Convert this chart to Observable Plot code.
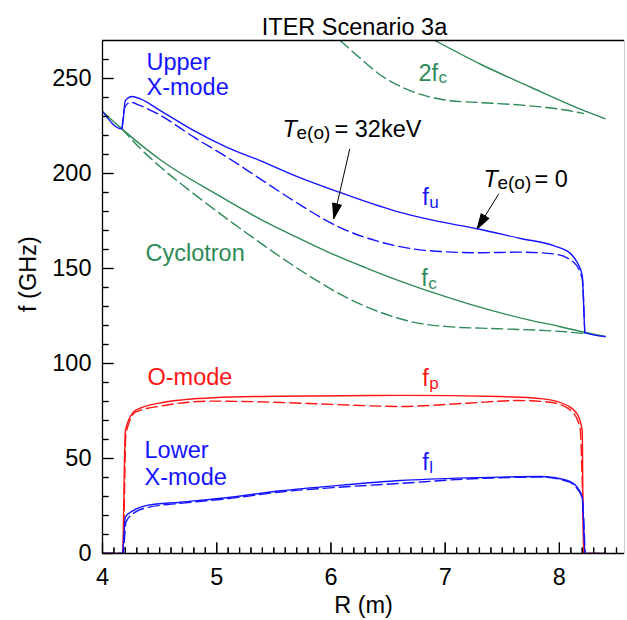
<!DOCTYPE html>
<html><head><meta charset="utf-8">
<script src="https://cdn.jsdelivr.net/npm/d3@7"></script>
<script src="https://cdn.jsdelivr.net/npm/@observablehq/plot@0.6"></script>
<style>body{margin:0;background:#fff}</style>
</head><body><div id="chart"></div>
<script>
// ---- data: [R (m), f (GHz)] ----
const fcCold = [[4.0,232.7],[4.17,223.5],[4.5,207.5],[5.0,189],[5.38,176],[5.7,166.5],[6.0,158],[6.3,150.5],[6.6,143.5],[6.91,137],[7.31,129.5],[7.75,122.7],[8.0,119.5],[8.23,116.3],[8.4,114.2]];
const fcHot = [[4.17,223.5],[4.32,213.8],[4.51,203.3],[4.8,189.3],[5.15,173.5],[5.5,158.5],[5.8,146.5],[6.08,136.5],[6.43,127],[6.72,121.8],[7.02,119.4],[7.31,118.6],[7.6,118],[7.89,117.3],[8.05,116.7],[8.21,115.8]];
const harm2Cold = [[6.91,270],[7.31,257.5],[7.75,245.4],[8.18,234],[8.4,228.8]];
const harm2Hot = [[6.08,270],[6.25,261],[6.43,252],[6.72,243],[7.02,238.5],[7.31,237.3],[7.6,236.3],[7.89,234.7],[8.05,233.4],[8.21,231.6]];
const fuCold = [[4.0,232.7],[4.17,223.5],[4.2,238.4],[4.26,240.5],[4.33,239.3],[4.51,233],[4.8,222.6],[5.09,213.8],[5.38,206.8],[5.7,198.5],[6.07,190.2],[6.55,180.5],[6.9,175.3],[7.28,170.9],[7.66,165.8],[7.95,162],[8.1,157.7],[8.155,153.3],[8.2,146.3],[8.225,116.3],[8.4,114.2]];
const fuHot = [[4.17,223.5],[4.2,235.5],[4.25,237.5],[4.32,236],[4.51,230.5],[4.8,219.1],[5.09,208.6],[5.38,197.2],[5.67,185.8],[6.08,171.5],[6.4,164.5],[6.7,160.5],[7.0,158.8],[7.3,158.3],[7.66,158.6],[7.95,157.7],[8.125,153.3],[8.2,144.6],[8.222,116]];
const fpCold = [[4.0,0],[4.175,0],[4.2,64.7],[4.27,74.4],[4.32,76.2],[4.54,79.6],[4.97,82],[5.56,82.8],[6.61,83.2],[7.48,82.6],[7.86,81.4],[8.07,77.9],[8.155,73.5],[8.2,64.7],[8.21,0],[8.4,0]];
const fpHot = [[4.0,0],[4.18,0],[4.205,63],[4.29,74.4],[4.54,77.9],[4.97,80.2],[5.56,79.5],[6.0,78.5],[6.61,77.4],[7.19,79.1],[7.63,80.5],[7.92,79.6],[8.1,75.3],[8.18,66.5],[8.225,0],[8.4,0]];
const flCold = [[4.0,0],[4.175,0],[4.2,19.1],[4.27,22.6],[4.39,25.3],[4.68,27],[5.12,29.6],[5.56,33],[6.1,36],[6.61,38.4],[7.19,39.8],[7.83,40.5],[8.07,38.4],[8.155,34.9],[8.2,29.6],[8.225,0],[8.4,0]];
const flHot = [[4.0,0],[4.18,0],[4.205,16.5],[4.28,21.5],[4.4,24.3],[4.7,26.5],[5.12,29],[5.56,32.4],[6.1,35],[6.61,36.9],[7.19,39.2],[7.83,40.2],[8.07,38],[8.15,34.5],[8.2,29],[8.225,0]];
const xTickLabels = [4,5,6,7,8];
const yTickLabels = [0,50,100,150,200,250];
const arrowTail = [[6.165,213],[7.469,189.3]];
const arrowTip = [[6.024,176.2],[7.28,170.9]];

// ---- styling ----
const FONT = "'Liberation Sans', Arial, Helvetica, sans-serif";
const BLUE = "#1414ff", GREEN = "#2e8b57", RED = "#ff1414";
const FS = 23.5, SUB = 17;
const xMinor = d3.range(41, 86).map(d => d / 10).filter(d => Math.round(d * 10) % 10 !== 0);
const yMinor = d3.range(10, 270, 10).filter(d => d % 50 !== 0);

const base = {
  width: 627, height: 620,
  marginLeft: 102, marginRight: 3, marginTop: 40, marginBottom: 67,
  x: {domain: [4, 8.57]},
  y: {domain: [0, 270]},
  style: {fontFamily: FONT, background: "white", color: "black"}
};

const probe = Plot.plot({...base, marks: [Plot.frame()]});
const sx = probe.scale("x"), sy = probe.scale("y");
const yTickEnd = px => sy.invert(sy.apply(0) - px);
const xTickEnd = px => sx.invert(sx.apply(4) + px);
const xTicks = [
  ...xMinor.map(v => ({x1: v, x2: v, y1: 0, y2: yTickEnd(6)})),
  ...xTickLabels.map(v => ({x1: v, x2: v, y1: 0, y2: yTickEnd(11)}))
];
const yTicks = [
  ...yMinor.map(v => ({x1: 4, x2: xTickEnd(6), y1: v, y2: v})),
  ...yTickLabels.map(v => ({x1: 4, x2: xTickEnd(11), y1: v, y2: v}))
];
const arrows = arrowTail.map((t, i) => ({x1: t[0], y1: t[1], x2: arrowTip[i][0], y2: arrowTip[i][1]}));
const angle = d => {
  const dx = sx.apply(d.x2) - sx.apply(d.x1), dy = sy.apply(d.y2) - sy.apply(d.y1);
  return Math.atan2(dx, -dy) * 180 / Math.PI;
};
const head = {draw(ctx, l) { ctx.moveTo(0, -l); ctx.lineTo(-4.5, 0); ctx.lineTo(4.5, 0); ctx.closePath(); }};

const line = (data, color, dashed) => Plot.line(data, {
  x: d => d[0], y: d => d[1], stroke: color, strokeWidth: 1.4,
  curve: "monotone-x", clip: true, ...(dashed ? {strokeDasharray: "11,5"} : {})
});
const txt = (s, x, y, color, o = {}) => Plot.text([s], {
  x, y, text: d => d, fill: color, fontSize: FS, textAnchor: "start", lineAnchor: "middle", fontFamily: FONT, ...o
});
const tickLink = data => Plot.link(data, {x1: "x1", y1: "y1", x2: "x2", y2: "y2", stroke: "black", strokeWidth: 1.2});

const chart = Plot.plot({
  ...base,
  marks: [
    Plot.frame({stroke: "#cccccc"}),
    line(harm2Cold, GREEN, false), line(harm2Hot, GREEN, true),
    line(fcCold, GREEN, false), line(fcHot, GREEN, true),
    line(fpCold, RED, false), line(fpHot, RED, true),
    line(flCold, BLUE, false), line(flHot, BLUE, true),
    line(fuCold, BLUE, false), line(fuHot, BLUE, true),
    Plot.axisX({ticks: xTickLabels, anchor: "bottom", tickSize: 0, tickPadding: 15, tickFormat: "d", fontSize: FS, label: null}),
    Plot.axisY({ticks: yTickLabels, anchor: "left", tickSize: 0, tickPadding: 11, tickFormat: "d", fontSize: FS, label: null}),
    Plot.ruleX([4], {stroke: "black", strokeWidth: 1.3}),
    Plot.ruleY([0], {stroke: "black", strokeWidth: 1.3}),
    Plot.ruleY([270], {stroke: "black", strokeWidth: 1.3}),
    Plot.text(["ITER Scenario 3a"], {text: d => d, frameAnchor: "top", dy: -6, dx: -9, lineAnchor: "bottom", fontSize: FS, fontFamily: FONT}),
    Plot.text(["R (m)"], {text: d => d, frameAnchor: "bottom", dy: 52, lineAnchor: "middle", fontSize: FS, fontFamily: FONT}),
    Plot.text(["f (GHz)"], {text: d => d, frameAnchor: "left", dx: -74, dy: 15, rotate: -90, lineAnchor: "middle", fontSize: FS, fontFamily: FONT}),
    txt("Upper", 4.385, 258.6, BLUE),
    txt("X-mode", 4.385, 245.3, BLUE),
    txt("Cyclotron", 4.376, 157.9, GREEN),
    txt("O-mode", 4.394, 92.6, RED),
    txt("Lower", 4.368, 54.2, BLUE),
    txt("X-mode", 4.368, 40, BLUE),
    txt("2f", 6.766, 252.9, GREEN), txt("c", 6.766, 252.9, GREEN, {dx: 20, dy: 5, fontSize: SUB}),
    txt("f", 6.80, 187.4, BLUE), txt("u", 6.80, 187.4, BLUE, {dx: 7, dy: 5, fontSize: SUB}),
    txt("f", 6.79, 144.7, GREEN), txt("c", 6.79, 144.7, GREEN, {dx: 7, dy: 5, fontSize: SUB}),
    txt("f", 6.80, 92.1, RED), txt("p", 6.80, 92.1, RED, {dx: 7, dy: 5, fontSize: SUB}),
    txt("f", 6.80, 48, BLUE), txt("l", 6.80, 48, BLUE, {dx: 7, dy: 5, fontSize: SUB}),
    txt("T", 5.576, 219.1, "black", {lineAnchor: "bottom", fontStyle: "italic"}),
    txt("e(o)", 5.576, 219.1, "black", {lineAnchor: "bottom", dx: 14, dy: 2, fontSize: 19}),
    txt("= 32keV", 5.576, 219.1, "black", {lineAnchor: "bottom", dx: 52}),
    txt("T", 7.335, 192.8, "black", {lineAnchor: "bottom", fontStyle: "italic"}),
    txt("e(o)", 7.335, 192.8, "black", {lineAnchor: "bottom", dx: 14, dy: 2, fontSize: 19}),
    txt("= 0", 7.335, 192.8, "black", {lineAnchor: "bottom", dx: 51}),
    Plot.link(arrows, {x1: "x1", y1: "y1", x2: "x2", y2: "y2", stroke: "black", strokeWidth: 1}),
    Plot.vector(arrows, {x: "x2", y: "y2", rotate: angle, length: 15, anchor: "end", shape: head, fill: "black", stroke: "black", strokeWidth: 1}),
    tickLink(xTicks),
    tickLink(yTicks)
  ]
});
document.getElementById("chart").appendChild(chart);

// extra safeguard: inward ticks placed with the chart's own scales, appended on top
const cx = chart.scale("x"), cy = chart.scale("y");
const g = d3.select(chart).append("g").attr("stroke", "black").attr("stroke-width", 1.2);
for (const t of [...xTicks, ...yTicks]) {
  g.append("line")
    .attr("x1", cx.apply(t.x1) + 0.5).attr("x2", cx.apply(t.x2) + 0.5)
    .attr("y1", cy.apply(t.y1) + 0.5).attr("y2", cy.apply(t.y2) + 0.5);
}
</script></body></html>
